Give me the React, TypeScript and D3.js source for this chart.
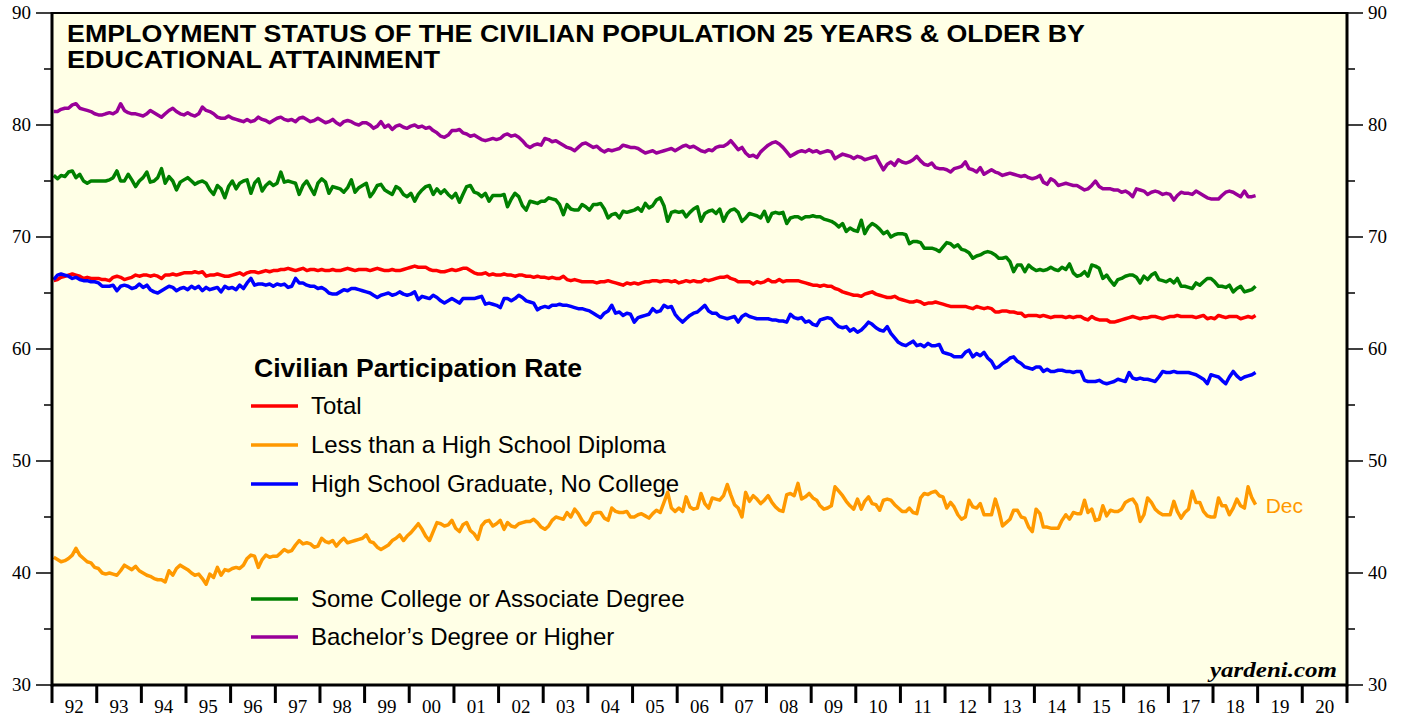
import * as d3 from 'd3';

const W = 1407, H = 717;
const MARGIN = { top: 13, right: 60, bottom: 32, left: 52 };

const TITLE = ['EMPLOYMENT STATUS OF THE CIVILIAN POPULATION 25 YEARS & OLDER BY', 'EDUCATIONAL ATTAINMENT'];
const yTicks = [30, 40, 50, 60, 70, 80, 90];
const years = d3.range(1992, 2021);

// monthly, Jan 1992 - Dec 2018, one row per year
const total = [
  66.1,66.2,66.4,66.5,66.6,66.7,66.6,66.5,66.3,66.4,66.3,66.3,
  66.3,66.2,66.2,66.1,66.4,66.5,66.4,66.2,66.3,66.4,66.6,66.5,
  66.6,66.6,66.5,66.6,66.5,66.3,66.6,66.6,66.7,66.6,66.7,66.8,
  66.8,66.8,66.9,66.8,66.9,66.5,66.6,66.6,66.7,66.6,66.5,66.5,
  66.6,66.7,66.8,66.6,66.8,66.9,66.9,66.8,66.9,67.0,66.9,67.0,
  67.0,67.1,67.1,67.2,67.1,67.0,67.1,67.2,67.0,67.1,67.1,67.0,
  67.1,67.0,67.0,67.1,67.0,67.0,67.1,67.2,67.1,67.0,67.1,67.1,
  67.1,67.0,67.1,67.2,67.1,67.0,67.0,67.1,67.0,67.0,67.1,67.2,
  67.3,67.4,67.3,67.3,67.3,67.1,67.0,67.0,66.9,66.9,67.0,67.1,
  67.0,67.1,67.2,67.2,67.0,66.8,66.7,66.7,66.8,66.6,66.7,66.6,
  66.6,66.7,66.6,66.6,66.5,66.6,66.6,66.5,66.5,66.4,66.5,66.4,
  66.4,66.3,66.4,66.3,66.3,66.5,66.2,66.1,66.2,66.1,66.0,66.0,
  66.0,66.0,65.9,66.0,66.0,66.1,66.0,65.9,65.8,65.7,65.9,65.8,
  65.9,65.8,65.9,66.0,66.0,66.1,66.1,66.0,66.1,66.1,66.0,66.1,
  65.9,66.0,66.1,66.0,66.1,66.0,66.0,66.2,66.1,66.2,66.3,66.4,
  66.4,66.5,66.3,66.2,66.0,66.0,66.0,66.0,65.8,66.0,65.9,66.0,
  66.2,66.0,66.0,66.2,66.0,66.1,66.1,66.1,66.1,66.0,65.9,65.8,
  65.7,65.7,65.6,65.7,65.6,65.6,65.4,65.3,65.1,65.0,64.9,64.8,
  64.8,64.7,64.9,65.0,65.1,64.9,64.8,64.7,64.6,64.6,64.7,64.5,
  64.4,64.3,64.2,64.2,64.3,64.2,64.0,64.1,64.1,64.2,64.1,64.0,
  63.9,63.8,63.8,63.8,63.8,63.8,63.7,63.6,63.8,63.7,63.6,63.7,
  63.6,63.3,63.3,63.4,63.4,63.3,63.3,63.2,63.2,62.9,63.0,63.0,
  63.0,62.9,63.0,62.9,62.8,62.9,62.9,62.9,62.8,62.9,62.8,62.9,
  62.9,62.7,62.6,62.9,62.7,62.6,62.6,62.6,62.4,62.4,62.5,62.6,
  62.7,62.8,62.9,62.8,62.7,62.8,62.8,62.9,62.9,62.8,62.7,62.8,
  62.9,62.9,63.0,62.9,62.9,62.9,62.9,62.8,62.9,63.0,62.7,62.8,
  62.7,63.0,62.9,62.8,62.9,62.9,62.9,62.7,62.8,62.9,62.8,63.0,
];

const lessHS = [
  41.4,41.2,41.0,41.1,41.3,41.6,42.2,41.6,41.3,41.0,40.9,40.5,
  40.4,40.0,39.9,40.0,39.9,39.8,40.2,40.7,40.5,40.3,40.6,40.2,
  40.0,39.8,39.7,39.5,39.4,39.4,39.2,40.2,39.8,40.4,40.7,40.5,
  40.3,40.0,39.8,39.9,39.5,39.0,39.9,39.6,40.5,39.8,40.3,40.2,
  40.4,40.5,40.4,40.7,41.3,41.6,41.5,40.5,41.2,41.6,41.4,41.5,
  41.5,41.8,42.1,41.9,42.0,42.5,42.9,42.6,42.7,42.6,42.3,42.4,
  43.1,42.8,42.7,42.9,42.4,42.8,43.1,42.7,42.8,42.9,43.0,43.1,
  43.4,42.8,42.7,42.3,42.1,42.3,42.5,42.9,43.1,43.4,42.9,43.3,
  43.6,44.0,44.4,43.9,43.3,42.9,43.7,44.5,44.4,44.2,44.3,44.7,
  44.0,43.7,44.3,44.5,43.8,43.5,43.0,44.2,44.6,44.7,44.2,44.4,
  44.7,43.9,44.5,44.2,44.1,44.4,44.5,44.6,44.6,44.8,44.5,44.1,
  43.9,44.2,44.7,45.0,44.9,44.8,45.4,45.0,45.7,45.3,44.7,44.3,
  44.6,45.3,45.4,45.4,44.9,44.7,45.8,45.5,45.4,45.4,45.5,45.0,
  45.0,45.2,45.3,45.1,44.9,45.3,45.6,45.4,46.3,47.2,45.8,45.5,
  45.8,45.5,46.8,45.9,45.7,45.8,47.1,46.2,45.8,46.7,46.6,46.5,
  46.9,47.9,47.0,46.1,45.8,45.0,47.2,46.4,46.9,46.6,46.2,46.5,
  46.9,46.3,45.9,45.6,45.5,47.0,47.1,46.9,48.0,46.6,46.8,47.1,
  46.7,46.5,46.0,45.7,45.8,46.0,47.7,47.3,46.9,46.4,46.0,45.7,
  46.6,45.7,46.4,46.8,46.2,46.1,45.6,46.5,46.6,46.5,46.1,45.8,
  45.5,45.5,45.8,45.4,45.3,46.7,47.1,47.0,47.2,47.3,46.9,46.8,
  45.8,46.3,45.9,45.2,44.8,45.0,46.5,45.9,45.8,46.2,45.2,45.2,
  45.2,46.6,45.6,44.2,44.5,44.8,45.6,45.6,45.0,44.9,44.1,43.7,
  45.7,45.3,44.1,44.1,44.0,44.0,44.0,44.7,45.2,44.8,45.4,45.3,
  45.3,46.5,45.4,45.7,44.7,44.8,46.0,45.1,45.6,45.5,45.5,45.7,
  46.3,46.5,46.6,46.1,44.6,45.2,46.7,46.3,45.7,45.4,45.2,45.2,
  45.2,46.4,45.5,44.9,45.4,45.7,47.3,46.3,46.3,45.5,45.1,45.0,
  45.0,46.7,46.0,46.0,45.2,45.8,46.6,46.0,45.8,47.7,46.7,46.1,
];

const hsGrad = [
  66.2,66.6,66.7,66.6,66.5,66.3,66.4,66.2,66.1,66.1,66.0,66.0,
  65.9,65.6,65.6,65.6,65.7,65.2,65.6,65.7,65.6,65.4,65.5,65.8,
  65.5,65.7,65.3,65.1,65.0,65.2,65.4,65.6,65.5,65.2,65.4,65.5,
  65.3,65.6,65.4,65.6,65.2,65.5,65.3,65.4,65.5,65.1,65.6,65.4,
  65.5,65.3,65.7,65.4,65.9,66.3,65.7,65.8,65.8,65.7,65.8,65.6,
  65.8,65.7,65.8,65.5,65.6,66.3,65.9,65.9,65.7,65.6,65.6,65.4,
  65.5,65.3,65.0,64.9,64.9,65.1,65.3,65.2,65.4,65.4,65.3,65.2,
  65.1,65.0,64.8,64.6,64.8,64.9,65.0,64.8,64.9,65.1,64.9,64.8,
  64.9,65.1,64.4,64.7,64.6,64.5,64.8,64.6,64.3,64.1,64.3,64.5,
  64.3,64.1,64.5,64.5,64.5,64.5,64.6,64.7,64.0,64.1,64.0,63.9,
  63.7,64.5,64.5,64.3,64.5,64.8,64.6,64.3,64.2,64.1,63.5,63.7,
  63.8,63.7,63.9,63.9,64.0,63.9,63.9,63.8,63.7,63.6,63.6,63.5,
  63.4,63.2,63.0,62.8,63.2,63.4,63.9,63.2,63.3,63.0,63.2,63.1,
  62.4,62.8,62.9,63.0,63.1,63.6,63.3,63.4,63.9,63.7,63.8,63.1,
  62.7,62.4,62.7,63.0,63.2,63.3,63.6,63.9,63.4,63.2,63.2,62.9,
  62.8,62.7,62.8,62.9,62.4,62.9,63.1,62.9,62.8,62.7,62.7,62.7,
  62.7,62.6,62.6,62.5,62.5,62.4,63.1,62.8,62.7,62.8,62.4,62.5,
  62.2,62.1,62.6,62.7,62.8,62.7,62.3,62.0,61.9,62.0,61.6,61.8,
  61.5,61.7,62.0,62.4,62.2,61.9,61.7,61.6,62.0,61.4,61.0,60.6,
  60.4,60.3,60.5,60.7,60.3,60.4,60.2,60.5,60.3,60.3,60.4,59.7,
  59.6,59.5,59.3,59.3,59.3,59.7,59.9,59.3,59.6,59.4,59.7,59.2,
  58.9,58.3,58.4,58.7,58.9,59.2,59.3,58.9,58.7,58.4,58.3,58.2,
  58.4,58.4,58.0,58.2,58.0,58.0,58.1,58.1,58.0,58.0,57.9,58.0,
  58.0,57.2,57.1,57.1,57.1,57.2,57.0,56.9,57.0,57.1,57.3,57.2,
  57.1,57.9,57.4,57.3,57.4,57.3,57.3,57.2,57.1,57.5,58.0,57.9,
  57.9,58.0,57.9,57.9,57.9,57.9,57.8,57.7,57.5,57.3,56.9,57.7,
  57.6,57.5,57.2,56.9,57.5,58.0,57.6,57.3,57.5,57.6,57.7,57.9,
];

const someCollege = [
  75.5,75.2,75.5,75.4,75.8,75.9,75.3,75.6,75.0,74.8,75.0,75.0,
  75.0,75.0,75.0,75.1,75.3,75.9,75.0,75.0,75.6,75.1,74.5,75.0,
  75.3,75.8,74.9,75.0,75.3,76.1,74.8,75.4,75.0,74.2,74.9,75.1,
  75.3,75.0,74.7,74.9,75.0,74.8,74.2,73.8,74.6,74.3,73.5,74.5,
  75.0,74.3,74.8,75.0,75.1,73.9,74.8,75.2,74.1,74.6,74.9,74.6,
  74.8,75.8,74.9,75.0,74.9,74.8,73.8,74.6,75.0,74.4,73.8,74.8,
  75.2,74.9,73.9,74.5,74.4,74.3,74.0,74.4,75.1,74.0,74.4,74.6,
  74.8,73.6,74.0,74.6,74.7,74.2,74.0,73.8,74.5,74.3,73.8,73.6,
  73.9,73.2,73.8,74.2,74.5,74.6,73.8,74.3,73.9,74.2,73.8,73.5,
  73.9,73.1,73.8,74.5,74.6,74.0,73.9,73.6,73.9,73.2,73.7,73.7,
  73.7,73.8,72.7,73.4,73.9,73.6,72.8,72.4,73.2,73.1,73.0,73.2,
  73.2,73.5,73.4,73.3,72.9,72.0,72.9,72.5,72.4,72.4,72.9,72.7,
  72.4,72.9,72.9,73.0,72.5,71.7,72.0,72.1,71.7,72.3,72.2,72.3,
  72.4,72.6,72.3,73.0,72.6,72.8,73.3,73.5,72.8,71.4,72.2,72.3,
  72.2,72.3,71.8,72.2,72.5,72.7,71.4,72.1,72.3,72.4,72.1,72.5,
  71.4,72.1,72.4,72.5,72.2,71.4,71.7,72.1,72.0,71.9,71.7,72.3,
  71.4,72.1,72.2,72.1,72.2,71.2,71.7,71.8,71.8,71.6,71.8,71.8,
  71.9,71.8,71.8,71.6,71.5,71.4,71.2,70.9,71.2,70.5,70.8,70.6,
  70.5,71.5,70.3,70.9,71.2,71.0,70.7,70.3,70.5,70.0,70.2,70.3,
  70.3,70.2,69.4,69.6,69.6,69.5,69.0,69.0,69.0,68.9,68.7,69.1,
  69.5,69.4,69.1,69.3,68.9,68.8,68.6,68.1,68.3,68.4,68.6,68.7,
  68.6,68.4,68.1,68.1,68.2,67.8,66.9,67.5,67.5,66.9,67.5,67.2,
  67.0,67.1,67.0,67.1,67.3,67.1,67.0,67.3,67.1,67.6,66.8,66.5,
  66.6,66.9,66.5,67.5,67.4,67.2,66.3,66.6,66.1,65.7,66.2,66.3,
  66.5,66.6,66.6,66.4,65.9,66.5,66.2,66.6,66.8,66.2,66.1,66.0,
  66.2,65.9,66.3,65.6,65.6,65.5,65.4,65.9,65.7,66.0,66.3,66.3,
  66.0,65.6,65.6,65.5,65.7,65.1,65.4,65.6,65.1,65.2,65.3,65.6,
];

const bachelors = [
  81.2,81.2,81.4,81.5,81.5,81.8,81.9,81.5,81.4,81.3,81.2,81.0,
  80.9,80.9,81.0,81.1,81.0,81.2,81.9,81.3,81.1,81.0,81.0,80.9,
  80.8,81.0,81.3,81.1,80.9,80.7,81.0,81.3,81.5,81.2,81.0,80.9,
  81.1,80.9,80.8,81.0,81.6,81.3,81.2,81.0,80.7,80.6,80.6,80.8,
  80.6,80.5,80.4,80.3,80.5,80.3,80.4,80.7,80.5,80.4,80.2,80.4,
  80.6,80.7,80.5,80.4,80.5,80.3,80.6,80.7,80.5,80.3,80.4,80.6,
  80.4,80.2,80.3,80.5,80.2,80.0,80.3,80.4,80.3,80.1,80.0,80.2,
  80.2,80.0,79.7,79.9,80.3,79.8,80.0,79.6,79.9,80.0,79.8,79.7,
  79.9,80.0,79.8,79.9,79.7,79.8,79.5,79.3,79.0,78.9,79.1,79.5,
  79.5,79.6,79.3,79.2,79.0,79.1,78.9,78.7,78.6,78.7,78.8,78.7,
  78.8,79.1,79.2,79.0,79.1,78.9,78.6,78.2,78.0,78.2,78.3,78.2,
  78.8,78.7,78.5,78.6,78.4,78.2,78.0,77.9,77.7,78.0,78.3,78.4,
  78.2,78.0,78.1,77.8,77.6,77.8,77.7,77.8,77.9,78.2,78.1,78.0,
  78.0,77.9,77.7,77.5,77.6,77.7,77.5,77.6,77.7,77.8,77.9,77.7,
  77.9,78.1,78.2,78.0,78.1,77.9,77.7,77.6,77.8,77.7,78.0,78.1,
  78.1,78.3,78.6,78.2,77.8,78.0,77.5,77.2,77.3,77.1,77.6,77.9,
  78.2,78.4,78.5,78.3,78.0,77.6,77.2,77.4,77.6,77.7,77.6,77.8,
  77.6,77.7,77.5,77.6,77.7,77.6,77.0,77.2,77.4,77.3,77.2,77.0,
  77.2,77.1,76.9,77.0,77.1,77.2,76.6,76.0,76.5,76.7,76.4,76.9,
  76.7,76.6,76.7,76.9,77.2,76.8,76.5,76.4,76.6,76.2,76.1,76.1,
  76.0,75.8,76.1,76.2,76.3,76.7,76.1,76.0,75.8,76.2,75.6,75.8,
  76.0,75.8,75.7,75.5,75.6,75.7,75.6,75.5,75.4,75.5,75.3,75.2,
  75.3,75.5,74.9,74.7,75.2,75.0,74.6,74.7,74.8,74.7,74.6,74.6,
  74.4,74.2,74.3,74.6,75.0,74.5,74.3,74.3,74.3,74.2,74.2,74.0,
  74.1,73.9,73.6,74.3,74.2,74.1,73.8,74.0,74.1,74.0,73.8,73.9,
  73.8,73.3,73.7,74.0,73.9,73.9,73.8,74.1,73.9,73.7,73.5,73.4,
  73.4,73.4,73.7,74.0,74.1,74.0,73.8,73.6,74.1,73.6,73.6,73.7,
];

const SERIES = [
  { name: 'Total', color: '#ff0000', values: total, legendY: 406 },
  { name: 'Less than a High School Diploma', color: '#ff9900', values: lessHS, legendY: 445 },
  { name: 'High School Graduate, No College', color: '#0000ff', values: hsGrad, legendY: 484 },
  { name: 'Some College or Associate Degree', color: '#008000', values: someCollege, legendY: 599 },
  { name: 'Bachelor\u2019s Degree or Higher', color: '#990099', values: bachelors, legendY: 637 },
];

const months = d3.timeMonth.range(new Date(1992, 0, 1), new Date(2019, 0, 1));

export default function App() {
  const left = MARGIN.left, right = W - MARGIN.right;
  const top = MARGIN.top, bottom = H - MARGIN.bottom;

  const x = d3.scaleTime().domain([new Date(1992, 0, 1), new Date(2021, 0, 1)]).range([left, right]);
  const y = d3.scaleLinear().domain([30, 90]).range([bottom, top]);

  const line = d3.line<number>()
    .x((_, i) => x(d3.timeDay.offset(months[i], 14)))
    .y((d) => y(d));

  const minorTicks = d3.range(35, 90, 10);
  const serif = '"Liberation Serif", "Times New Roman", serif';
  const sans = '"Liberation Sans", Arial, sans-serif';

  const last = lessHS[lessHS.length - 1];

  return (
    <svg width={W} height={H} style={{ position: 'absolute', left: 0, top: 0, background: '#fff' }}>
      <rect x={left} y={top} width={right - left} height={bottom - top} fill="#ffffe6" />

      <text x={67} y={42} fontFamily={sans} fontWeight="bold" fontSize={24} textLength={1018} lengthAdjust="spacingAndGlyphs">{TITLE[0]}</text>
      <text x={67} y={68} fontFamily={sans} fontWeight="bold" fontSize={24} textLength={373} lengthAdjust="spacingAndGlyphs">{TITLE[1]}</text>

      <g>
        {SERIES.map((s) => (
          <path key={s.name} d={line(s.values) ?? ''} fill="none" stroke={s.color} strokeWidth={3.5} strokeLinejoin="round" />
        ))}
      </g>

      <text x={x(new Date(2019, 0, 1)) + 8} y={y(last) + 8} fontFamily={sans} fontSize={21} fill="#ff9900">Dec</text>

      {/* legend */}
      <text x={254} y={377} fontFamily={sans} fontWeight="bold" fontSize={26} textLength={328} lengthAdjust="spacingAndGlyphs">Civilian Participation Rate</text>
      {SERIES.map((s) => (
        <g key={s.name}>
          <line x1={251} x2={298} y1={s.legendY} y2={s.legendY} stroke={s.color} strokeWidth={3.5} />
          <text x={311} y={s.legendY + 8} fontFamily={sans} fontSize={24}>{s.name}</text>
        </g>
      ))}

      <text x={1337} y={677} textAnchor="end" fontFamily={serif} fontWeight="bold" fontStyle="italic" fontSize={22} textLength={127} lengthAdjust="spacingAndGlyphs">yardeni.com</text>

      {/* frame */}
      <line x1={left} x2={right} y1={top} y2={top} stroke="#000" strokeWidth={2} />
      <line x1={left} x2={left} y1={top - 1} y2={bottom + 1.5} stroke="#000" strokeWidth={3} />
      <line x1={right} x2={right} y1={top - 1} y2={bottom + 1.5} stroke="#000" strokeWidth={3} />
      <line x1={left} x2={right} y1={bottom} y2={bottom} stroke="#000" strokeWidth={3} />

      {/* y axes */}
      {yTicks.map((t) => (
        <g key={t}>
          <line x1={left - 16} x2={left} y1={y(t)} y2={y(t)} stroke="#000" strokeWidth={1.5} />
          <line x1={right} x2={right + 16} y1={y(t)} y2={y(t)} stroke="#000" strokeWidth={1.5} />
          <text x={31} y={y(t) + 6} textAnchor="end" fontFamily={serif} fontSize={19}>{t}</text>
          <text x={1368} y={y(t) + 6} fontFamily={serif} fontSize={19}>{t}</text>
        </g>
      ))}
      {minorTicks.map((t) => (
        <g key={t}>
          <line x1={left - 8} x2={left} y1={y(t)} y2={y(t)} stroke="#000" strokeWidth={1.5} />
          <line x1={right} x2={right + 8} y1={y(t)} y2={y(t)} stroke="#000" strokeWidth={1.5} />
        </g>
      ))}

      {/* x axis */}
      {years.map((yr) => {
        const x0 = x(new Date(yr, 0, 1));
        const x1 = x(new Date(yr + 1, 0, 1));
        return (
          <g key={yr}>
            <line x1={x0} x2={x0} y1={bottom} y2={bottom + 18} stroke="#000" strokeWidth={3} />
            <text x={(x0 + x1) / 2} y={bottom + 28} textAnchor="middle" fontFamily={serif} fontSize={19}>
              {String(yr).slice(2)}
            </text>
          </g>
        );
      })}
      <line x1={right} x2={right} y1={bottom} y2={bottom + 18} stroke="#000" strokeWidth={3} />
    </svg>
  );
}
